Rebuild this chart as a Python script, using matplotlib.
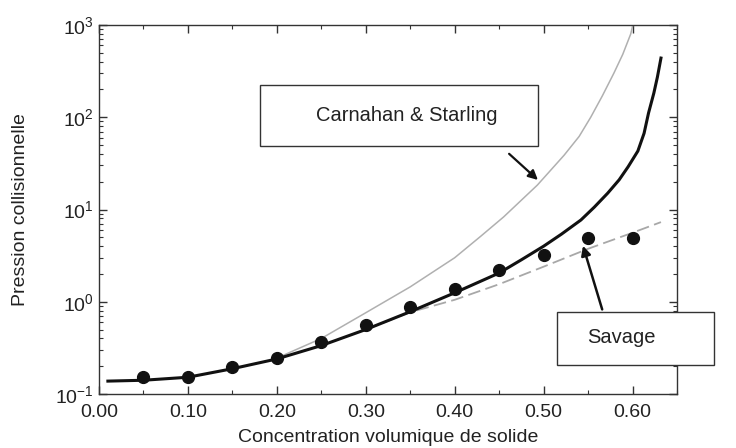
import matplotlib
matplotlib.use("Agg")
import matplotlib.pyplot as plt
from matplotlib.patches import Rectangle
from matplotlib.ticker import MultipleLocator, LogLocator, NullFormatter

plt.rcParams['font.family'] = ['Liberation Sans', 'DejaVu Sans']

# mesures (points noirs)
nu_exp = [0.05, 0.10, 0.15, 0.20, 0.25, 0.30, 0.35, 0.40, 0.45, 0.50, 0.55, 0.60]
p_exp = [0.152, 0.152, 0.195, 0.245, 0.364, 0.555, 0.88, 1.38, 2.2, 3.2, 4.9, 4.9]

# courbe en trait plein
nu_model = [0.01, 0.05, 0.10, 0.15, 0.20, 0.25, 0.30, 0.35, 0.40, 0.45, 0.475,
            0.50, 0.52, 0.542, 0.557, 0.572, 0.585, 0.595, 0.606, 0.613, 0.618,
            0.624, 0.628, 0.632]
p_model = [0.138, 0.141, 0.152, 0.188, 0.24, 0.335, 0.50, 0.78, 1.25, 2.05, 2.85,
           4.0, 5.4, 7.7, 10.6, 15.0, 21.0, 29.0, 43.0, 67.0, 111.0,
           183.0, 273.0, 438.0]

# Carnahan & Starling
nu_cs = [0.20, 0.25, 0.30, 0.33, 0.35, 0.40, 0.429, 0.455, 0.493, 0.523, 0.54,
         0.553, 0.566, 0.579, 0.589, 0.598, 0.61]
p_cs = [0.245, 0.40, 0.76, 1.12, 1.45, 3.0, 5.1, 8.3, 18.4, 38.7, 62.0,
        100.0, 170.0, 300.0, 480.0, 800.0, 2500.0]

# Savage
nu_sav = [0.30, 0.35, 0.40, 0.45, 0.50, 0.55, 0.60, 0.632]
p_sav = [0.50, 0.77, 1.05, 1.55, 2.4, 3.75, 5.6, 7.3]

fig = plt.figure(figsize=(7.36, 4.48), dpi=100)
ax = fig.add_axes([0.1345, 0.1205, 0.7853, 0.8237])

ax.plot(nu_cs, p_cs, color='#b0b0b0', lw=1.1, zorder=2)
ax.plot(nu_sav, p_sav, color='#a8a8a8', lw=1.3, dashes=(7, 3), zorder=2)
ax.plot(nu_model, p_model, color='#111111', lw=2.2, zorder=3)
ax.plot(nu_exp, p_exp, 'o', color='#111111', ms=8.5, zorder=4)

ax.set_yscale('log')
ax.set_xlim(0, 0.65)
ax.set_ylim(0.1, 1000)
ax.xaxis.set_major_locator(MultipleLocator(0.1))
ax.xaxis.set_minor_locator(MultipleLocator(0.05))
ax.xaxis.set_major_formatter(plt.FuncFormatter(lambda v, p: '%.2f' % v))
ax.yaxis.set_major_locator(LogLocator(base=10))
ax.yaxis.set_minor_locator(LogLocator(base=10, subs=range(2, 10)))
ax.yaxis.set_minor_formatter(NullFormatter())

ax.tick_params(which='both', direction='in', top=True, right=True,
               color='#333333', labelcolor='#222222', labelsize=14)
ax.tick_params(which='major', length=6, width=1)
ax.tick_params(which='minor', length=3, width=0.8)
ax.tick_params(axis='x', pad=7)
for s in ax.spines.values():
    s.set_color('#333333')
    s.set_linewidth(1.0)

ax.set_xlabel('Concentration volumique de solide', fontsize=14, color='#222222', labelpad=6)
ax.set_ylabel('Pression collisionnelle', fontsize=14, color='#222222', labelpad=19)

# encadrés des légendes
box_cs = Rectangle((0.2785, 0.672), 0.481, 0.165, transform=ax.transAxes,
                   facecolor='white', edgecolor='#333333', lw=1.0, zorder=5, clip_on=False)
ax.add_patch(box_cs)
ax.text(0.533, 0.756, 'Carnahan & Starling', transform=ax.transAxes, fontsize=14.5,
        color='#222222', ha='center', va='center', zorder=6)

box_sav = Rectangle((0.792, 0.0786), 0.272, 0.1434, transform=ax.transAxes,
                    facecolor='white', edgecolor='#333333', lw=1.0, zorder=5, clip_on=False)
ax.add_patch(box_sav)
ax.text(0.903, 0.154, 'Savage', transform=ax.transAxes, fontsize=14.5,
        color='#222222', ha='center', va='center', zorder=6)

ax.annotate('', xy=(0.763, 0.575), xytext=(0.706, 0.656), xycoords='axes fraction',
            arrowprops=dict(arrowstyle='-|>', color='#111111', lw=1.6, mutation_scale=14))
ax.annotate('', xy=(0.836, 0.409), xytext=(0.872, 0.222), xycoords='axes fraction',
            arrowprops=dict(arrowstyle='-|>', color='#111111', lw=1.8, mutation_scale=14),
            zorder=6)

fig.savefig('out.png', dpi=100)
